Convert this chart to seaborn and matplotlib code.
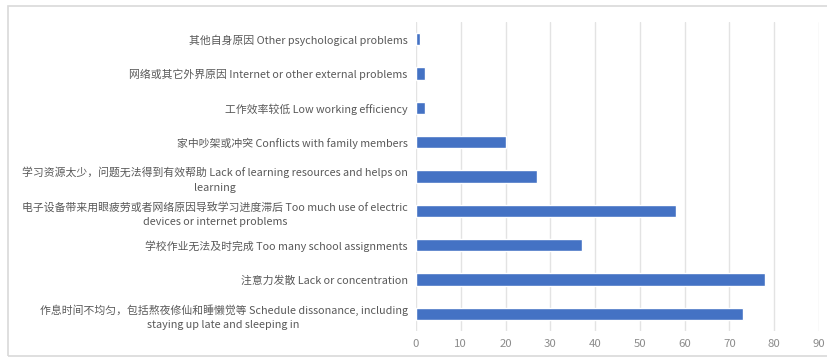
import matplotlib
matplotlib.use("Agg")
import matplotlib.pyplot as plt
from matplotlib.patches import Rectangle
import seaborn as sns
import pandas as pd

categories = [
    "其他自身原因 Other psychological problems",
    "网络或其它外界原因 Internet or other external problems",
    "工作效率较低 Low working efficiency",
    "家中吵架或冲突 Conflicts with family members",
    "学习资源太少，问题无法得到有效帮助 Lack of learning resources and helps on\nlearning",
    "电子设备带来用眼疲劳或者网络原因导致学习进度滞后 Too much use of electric\ndevices or internet problems",
    "学校作业无法及时完成 Too many school assignments",
    "注意力发散 Lack or concentration",
    "作息时间不均匀，包括熬夜修仙和睡懒觉等 Schedule dissonance, including\nstaying up late and sleeping in",
]
values = [1, 2, 2, 20, 27, 58, 37, 78, 73]
x_ticks = [0, 10, 20, 30, 40, 50, 60, 70, 80, 90]

sns.set_theme(style="white")
plt.rcParams["font.family"] = ["Noto Sans CJK SC", "DejaVu Sans"]

df = pd.DataFrame({"cat": categories, "val": values})

fig = plt.figure(figsize=(8.28, 3.58), dpi=100)
ax = fig.add_axes([416 / 828, 1 - 331 / 358, (819 - 416) / 828, (331 - 22) / 358])

sns.barplot(data=df, y="cat", x="val", orient="h", color="#4472C4",
            saturation=1, width=0.36, ax=ax, order=categories)

ax.set_xlim(0, 90)
ax.set_xticks(x_ticks)
ax.set_xticklabels([str(t) for t in x_ticks])
ax.set_xlabel("")
ax.set_ylabel("")
ax.grid(axis="x", color="#e3e3e3", linewidth=1)
ax.set_axisbelow(True)
for s in ax.spines.values():
    s.set_visible(False)
ax.tick_params(axis="x", colors="#8c8c8c", labelsize=8.2, length=0, pad=6)
ax.tick_params(axis="y", colors="#595959", labelsize=7.8, length=0, pad=6)
for lbl in ax.get_yticklabels():
    lbl.set_multialignment("center")
    lbl.set_linespacing(1.55)
    lbl.set_color("#595959")

fig.patches.append(Rectangle((8 / 828, 1 - 356 / 358), 1.0, (356 - 6) / 358,
                             transform=fig.transFigure, fill=False,
                             edgecolor="#d9d9d9", linewidth=1.2))

fig.savefig("out.png", dpi=100)
